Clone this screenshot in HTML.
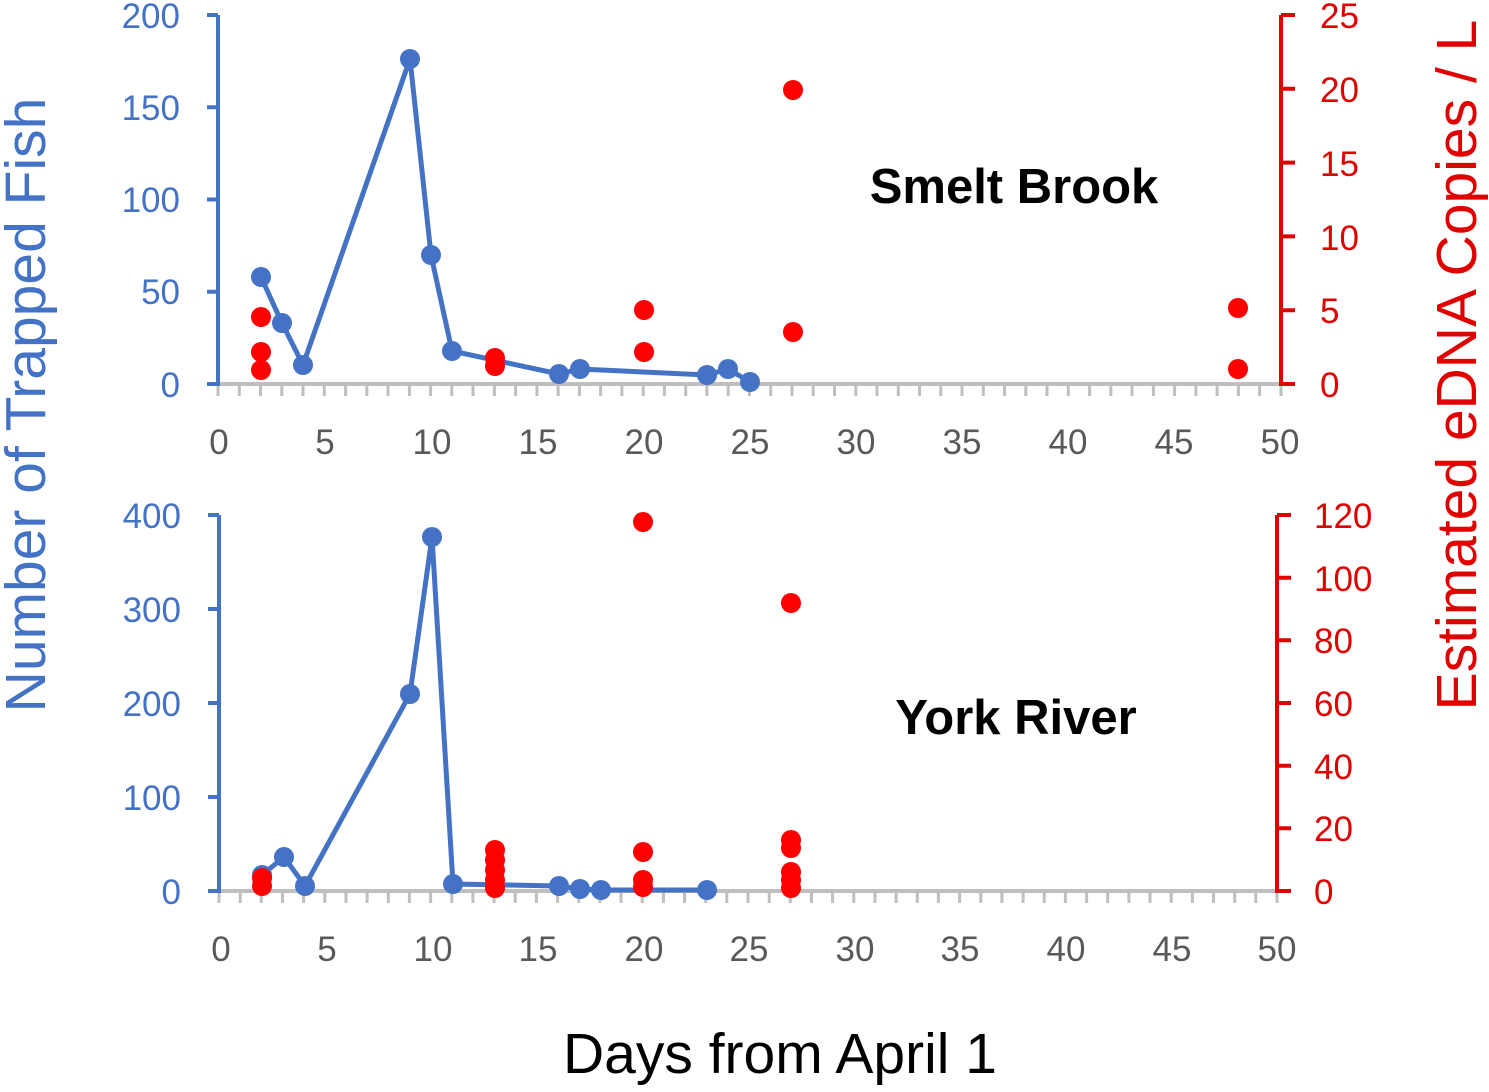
<!DOCTYPE html><html><head><style>body{margin:0;background:#fff}</style></head><body>
<svg width="1489" height="1087" xmlns="http://www.w3.org/2000/svg" font-family="Liberation Sans, sans-serif">
<g>
<line x1="218" y1="384" x2="1281" y2="384" stroke="#bfbfbf" stroke-width="4"/>
<path stroke="#bfbfbf" stroke-width="3" d="M218 384v12M239.3 384v12M260.5 384v12M281.8 384v12M303 384v12M324.3 384v12M345.6 384v12M366.8 384v12M388 384v12M409.4 384v12M430.6 384v12M451.8 384v12M473 384v12M494.4 384v12M515.6 384v12M536.9 384v12M558.1 384v12M579.4 384v12M600.6 384v12M621.9 384v12M643.2 384v12M664.4 384v12M685.7 384v12M706.9 384v12M728.2 384v12M749.5 384v12M770.7 384v12M792 384v12M813.2 384v12M834.5 384v12M855.8 384v12M877 384v12M898.3 384v12M919.5 384v12M940.8 384v12M962 384v12M983.3 384v12M1004.6 384v12M1025.8 384v12M1047 384v12M1068.3 384v12M1089.6 384v12M1110.8 384v12M1132 384v12M1153.4 384v12M1174.6 384v12M1195.9 384v12M1217.1 384v12M1238.4 384v12M1259.6 384v12M1281 384v12"/>
<line x1="218" y1="15" x2="218" y2="386" stroke="#4472C4" stroke-width="4"/>
<path d="M207 15h11M207 107.3h11M207 199.5h11M207 291.8h11M207 384h11" stroke="#4472C4" stroke-width="4"/>
<line x1="1281" y1="15" x2="1281" y2="386" stroke="#E00000" stroke-width="4"/>
<path d="M1281 15h14M1281 88.8h14M1281 162.6h14M1281 236.4h14M1281 310.2h14M1281 384h14" stroke="#E00000" stroke-width="4"/>
<g fill="#4472C4" font-size="35" text-anchor="end">
<text x="180" y="28">200</text><text x="180" y="120">150</text><text x="180" y="212">100</text><text x="180" y="304">50</text><text x="180" y="397">0</text>
</g>
<g fill="#E00000" font-size="35" text-anchor="start">
<text x="1320" y="28">25</text><text x="1320" y="102">20</text><text x="1320" y="176">15</text><text x="1320" y="250">10</text><text x="1320" y="323">5</text><text x="1320" y="397">0</text>
</g>
<g fill="#595959" font-size="35" text-anchor="middle">
<text x="219" y="454">0</text><text x="325" y="454">5</text><text x="432" y="454">10</text><text x="538" y="454">15</text><text x="644" y="454">20</text><text x="750" y="454">25</text><text x="856" y="454">30</text><text x="962" y="454">35</text><text x="1068" y="454">40</text><text x="1174" y="454">45</text><text x="1280" y="454">50</text>
</g>
<text x="1014" y="203" font-size="49" font-weight="bold" text-anchor="middle">Smelt Brook</text>
<polyline fill="none" stroke="#4472C4" stroke-width="5" points="261,277 282,323 303,365 410,59 431,255 452,351 559,374 580,369 707,375 728,369 750,382"/>
<g fill="#4472C4">
<circle cx="261" cy="277" r="10"/><circle cx="282" cy="323" r="10"/><circle cx="303" cy="365" r="10"/><circle cx="410" cy="59" r="10"/><circle cx="431" cy="255" r="10"/><circle cx="452" cy="351" r="10"/><circle cx="559" cy="374" r="10"/><circle cx="580" cy="369" r="10"/><circle cx="707" cy="375" r="10"/><circle cx="728" cy="369" r="10"/><circle cx="750" cy="382" r="10"/>
</g>
<g fill="#FF0000">
<circle cx="261" cy="317" r="10"/><circle cx="261" cy="352" r="10"/><circle cx="261" cy="370" r="10"/><circle cx="495" cy="358" r="10"/><circle cx="495" cy="366" r="10"/><circle cx="644" cy="310" r="10"/><circle cx="644" cy="352" r="10"/><circle cx="793" cy="90" r="10"/><circle cx="793" cy="332" r="10"/><circle cx="1238" cy="308" r="10"/><circle cx="1238" cy="369" r="10"/>
</g>
</g>
<g>
<line x1="219" y1="891" x2="1277" y2="891" stroke="#bfbfbf" stroke-width="4"/>
<path stroke="#bfbfbf" stroke-width="3" d="M219 891v12M240.2 891v12M261.3 891v12M282.5 891v12M303.6 891v12M324.8 891v12M346 891v12M367.1 891v12M388.3 891v12M409.4 891v12M430.6 891v12M451.8 891v12M472.9 891v12M494.1 891v12M515.2 891v12M536.4 891v12M557.6 891v12M578.7 891v12M599.9 891v12M621 891v12M642.2 891v12M663.4 891v12M684.5 891v12M705.7 891v12M726.8 891v12M748 891v12M769.2 891v12M790.3 891v12M811.5 891v12M832.6 891v12M853.8 891v12M875 891v12M896.1 891v12M917.3 891v12M938.4 891v12M959.6 891v12M980.8 891v12M1001.9 891v12M1023.1 891v12M1044.2 891v12M1065.4 891v12M1086.6 891v12M1107.7 891v12M1128.9 891v12M1150 891v12M1171.2 891v12M1192.4 891v12M1213.5 891v12M1234.7 891v12M1255.8 891v12M1277 891v12"/>
<line x1="219" y1="515" x2="219" y2="893" stroke="#4472C4" stroke-width="4"/>
<path d="M208 515h11M208 609h11M208 703h11M208 797h11M208 891h11" stroke="#4472C4" stroke-width="4"/>
<line x1="1277" y1="515" x2="1277" y2="893" stroke="#E00000" stroke-width="4"/>
<path d="M1277 515h14M1277 577.7h14M1277 640.3h14M1277 703h14M1277 765.7h14M1277 828.3h14M1277 891h14" stroke="#E00000" stroke-width="4"/>
<g fill="#4472C4" font-size="35" text-anchor="end">
<text x="181" y="528">400</text><text x="181" y="622">300</text><text x="181" y="716">200</text><text x="181" y="810">100</text><text x="181" y="904">0</text>
</g>
<g fill="#E00000" font-size="35" text-anchor="start">
<text x="1314" y="528">120</text><text x="1314" y="591">100</text><text x="1314" y="653">80</text><text x="1314" y="716">60</text><text x="1314" y="779">40</text><text x="1314" y="841">20</text><text x="1314" y="904">0</text>
</g>
<g fill="#595959" font-size="35" text-anchor="middle">
<text x="221" y="961">0</text><text x="327" y="961">5</text><text x="433" y="961">10</text><text x="538" y="961">15</text><text x="644" y="961">20</text><text x="749" y="961">25</text><text x="855" y="961">30</text><text x="960" y="961">35</text><text x="1066" y="961">40</text><text x="1172" y="961">45</text><text x="1277" y="961">50</text>
</g>
<text x="1016" y="734" font-size="49" font-weight="bold" text-anchor="middle">York River</text>
<polyline fill="none" stroke="#4472C4" stroke-width="5" points="262,875 284,857 305,886 410,694 432,537 453,884 559,886 580,889 601,890 707,890"/>
<g fill="#4472C4">
<circle cx="262" cy="875" r="10"/><circle cx="284" cy="857" r="10"/><circle cx="305" cy="886" r="10"/><circle cx="410" cy="694" r="10"/><circle cx="432" cy="537" r="10"/><circle cx="453" cy="884" r="10"/><circle cx="559" cy="886" r="10"/><circle cx="580" cy="889" r="10"/><circle cx="601" cy="890" r="10"/><circle cx="707" cy="890" r="10"/>
</g>
<g fill="#FF0000">
<circle cx="262" cy="878" r="10"/><circle cx="262" cy="886" r="10"/><circle cx="495" cy="850" r="10"/><circle cx="495" cy="860" r="10"/><circle cx="495" cy="870" r="10"/><circle cx="495" cy="880" r="10"/><circle cx="495" cy="888" r="10"/><circle cx="643" cy="522" r="10"/><circle cx="643" cy="852" r="10"/><circle cx="643" cy="880" r="10"/><circle cx="643" cy="887" r="10"/><circle cx="791" cy="603" r="10"/><circle cx="791" cy="840" r="10"/><circle cx="791" cy="848" r="10"/><circle cx="791" cy="872" r="10"/><circle cx="791" cy="880" r="10"/><circle cx="791" cy="888" r="10"/>
</g>
</g>
<text transform="translate(45,405) rotate(-90)" font-size="57" fill="#4472C4" text-anchor="middle">Number of Trapped Fish</text>
<text transform="translate(1476,365) rotate(-90)" font-size="57" fill="#E00000" text-anchor="middle">Estimated eDNA Copies / L</text>
<text x="780" y="1073" font-size="57" fill="#000" text-anchor="middle">Days from April 1</text>
</svg>
</body></html>
